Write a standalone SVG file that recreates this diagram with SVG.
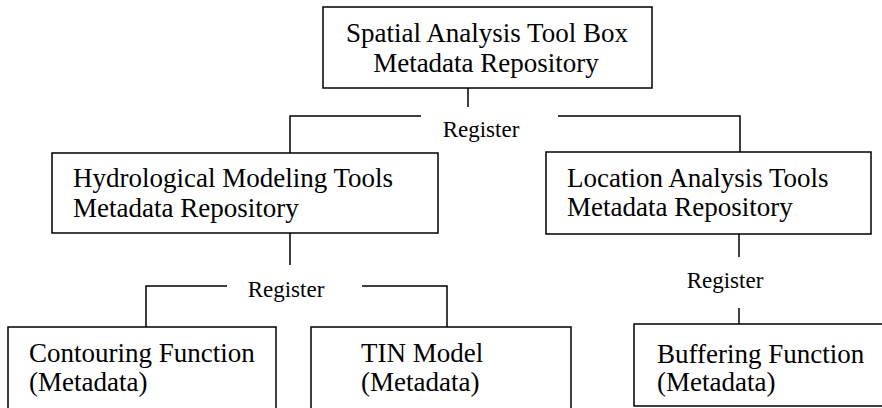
<svg xmlns="http://www.w3.org/2000/svg" width="882" height="408" viewBox="0 0 882 408">
<style>
.box{fill:#fff;stroke:#000;stroke-width:1.5}
.ln{fill:none;stroke:#000;stroke-width:1.5}
text{font-family:"Liberation Serif","Times New Roman",serif;fill:#000}
.t{font-size:27px}
.r{font-size:23px;text-anchor:middle}
.c{text-anchor:middle}
</style>
<rect width="882" height="408" fill="#fff"/>
<g id="connectors">
<path class="ln" d="M468,88 V107"/>
<path class="ln" d="M421,116 H290 V153"/>
<path class="ln" d="M558,116 H740 V152"/>
<path class="ln" d="M290,233 V265"/>
<path class="ln" d="M227,286 H146 V327"/>
<path class="ln" d="M362,286 H447 V327"/>
<path class="ln" d="M739,234 V257"/>
<path class="ln" d="M739,308 V324"/>
<text class="r" x="481" y="137">Register</text>
<text class="r" x="286" y="297">Register</text>
<text class="r" x="725" y="288">Register</text>
</g>
<g id="spatial">
<rect class="box" x="323" y="7" width="329" height="81"/>
<text class="t c" x="487" y="42">Spatial Analysis Tool Box</text>
<text class="t c" x="486" y="72">Metadata Repository</text>
</g>
<g id="hydro">
<rect class="box" x="52" y="153" width="386" height="80"/>
<text class="t" x="73" y="187">Hydrological Modeling Tools</text>
<text class="t" x="73" y="217">Metadata Repository</text>
</g>
<g id="location">
<rect class="box" x="546" y="152" width="325" height="82"/>
<text class="t" x="567" y="187">Location Analysis Tools</text>
<text class="t" x="567" y="216">Metadata Repository</text>
</g>
<g id="contouring">
<rect class="box" x="8" y="327" width="268" height="100"/>
<text class="t" x="29" y="362">Contouring Function</text>
<text class="t" x="29" y="391">(Metadata)</text>
</g>
<g id="tin">
<rect class="box" x="311" y="327" width="260" height="100"/>
<text class="t" x="361" y="362">TIN Model</text>
<text class="t" x="361" y="391">(Metadata)</text>
</g>
<g id="buffering">
<rect class="box" x="634" y="324" width="270" height="82"/>
<text class="t" x="657" y="363">Buffering Function</text>
<text class="t" x="657" y="391">(Metadata)</text>
</g>
</svg>
